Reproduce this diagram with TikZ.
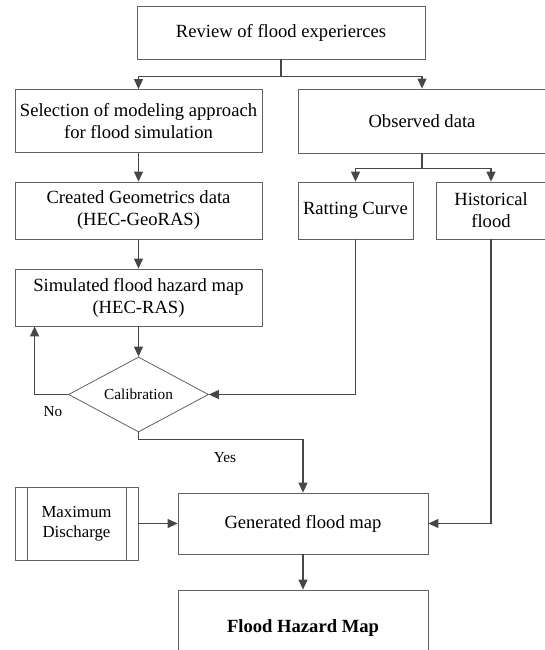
\documentclass[tikz,border=0pt]{standalone}
\usepackage{fontspec}
\setmainfont{Liberation Serif}
\usepackage{tikz}
\usetikzlibrary{arrows.meta, positioning, shapes.geometric}

\begin{document}
\begin{tikzpicture}[
        x=1pt, y=1pt,
        box/.style={draw=black!62, line width=0.8pt, rectangle, align=center, inner sep=2pt,
                    font=\fontsize{18.6}{22}\selectfont},
        decision/.style={draw=black!62, line width=0.8pt, diamond, shape aspect=1.87, inner sep=0pt,
                    minimum width=140pt, minimum height=75pt, font=\fontsize{15.3}{18}\selectfont},
        lbl/.style={font=\fontsize{15.3}{18}\selectfont},
        flow/.style={-{Triangle[length=10pt, width=9pt]}, draw=black!72, line width=1.1pt},
        link/.style={draw=black!72, line width=1.1pt}
    ]
    \useasboundingbox (0,0) rectangle (545,-650);

    % top
    \node[box, minimum width=288pt, minimum height=53pt] (review) at (281,-32.5) {Review of flood experierces};

    % left column
    \node[box, minimum width=247pt, minimum height=63pt] (select) at (138.5,-121) {Selection of modeling approach\\for flood simulation};
    \node[box, minimum width=247pt, minimum height=57pt] (geom) at (138.5,-210.5) {Created Geometrics data\\(HEC-GeoRAS)};
    \node[box, minimum width=247pt, minimum height=57pt] (simul) at (138.5,-297.5) {Simulated flood hazard map\\(HEC-RAS)};
    \node[decision] (calib) at (138.5,-394.5) {Calibration};

    % right column
    \node[box, minimum width=248pt, minimum height=64pt] (observed) at (422,-121) {Observed data};
    \node[box, minimum width=115pt, minimum height=57pt] (rating) at (355.5,-210.5) {Ratting Curve};
    \node[box, minimum width=110pt, minimum height=57pt] (histor) at (491,-210.5) {Historical\\flood};

    % bottom
    \node[box, minimum width=123pt, minimum height=73pt, font=\fontsize{16.8}{20}\selectfont] (maxq) at (76.5,-523.5) {Maximum\\Discharge};
    \draw[draw=black!62, line width=0.8pt] ([xshift=13pt]maxq.north west) -- ([xshift=13pt]maxq.south west);
    \draw[draw=black!62, line width=0.8pt] ([xshift=-12pt]maxq.north east) -- ([xshift=-12pt]maxq.south east);
    \node[box, minimum width=250pt, minimum height=61pt] (genmap) at (303,-523.5) {Generated flood map};
    \node[box, minimum width=250pt, minimum height=76pt] (hazard) at (303,-628) {\textbf{Flood Hazard Map}};

    % labels
    \node[lbl] (nolbl) at (53,-412) {No};
    \node[lbl] (yeslbl) at (225,-458) {Yes};

    % connectors
    \draw[link] (review.south) -- ++(0,-17) coordinate (rsplit);
    \draw[flow] (rsplit) -| (select.north);
    \draw[flow] (rsplit) -| (observed.north);
    \draw[link] (observed.south) -- ++(0,-15) coordinate (osplit);
    \draw[flow] (osplit) -| (rating.north);
    \draw[flow] (osplit) -| (histor.north);

    \draw[flow] (select) -- (geom);
    \draw[flow] (geom) -- (simul);
    \draw[flow] (simul) -- (calib);
    \draw[flow] (calib.west) -| ([xshift=20pt]simul.south west);
    \draw[flow] (rating.south) |- (calib.east);
    \draw[flow] (calib.south) -- ++(0,-7) -| (genmap.north);
    \draw[flow] (histor.south) |- (genmap.east);
    \draw[flow] (maxq) -- (genmap);
    \draw[flow] (genmap) -- (hazard);

\end{tikzpicture}
\end{document}
